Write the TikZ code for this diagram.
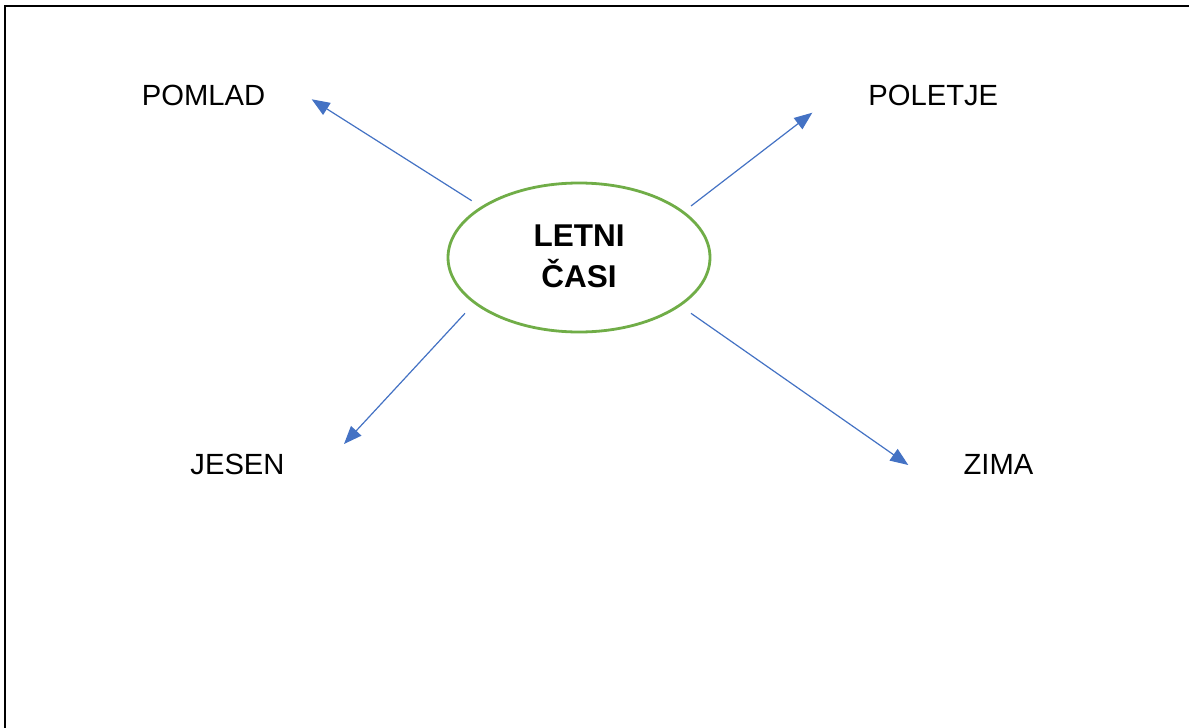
\documentclass[tikz,border=0pt]{standalone}
\usepackage{fontspec}
\setmainfont{Liberation Sans}
\usetikzlibrary{arrows.meta}
\definecolor{arrowblue}{HTML}{4472C4}
\definecolor{ringgreen}{HTML}{70AD47}
\begin{document}
\begin{tikzpicture}[x=1pt,y=-1pt,
  label/.style={anchor=base,inner sep=0pt,font=\fontsize{29.2}{34}\selectfont},
  link/.style={draw=arrowblue,line width=1.2pt,-{Triangle[length=18pt,width=14pt]}}]
\useasboundingbox (0,0) rectangle (1189,728);
\fill[white] (0,0) rectangle (1189,728);
% frame
\draw[line width=2.6pt] (5,728) -- (5,6) -- (1189,6);
% centre
\draw[draw=ringgreen,line width=2.8pt] (579,257.5) ellipse [x radius=131, y radius=74.5];
\node[inner sep=0pt] (hub) at (579,257.5) {};
\node[label,font=\bfseries\fontsize{31.5}{41}\selectfont] (t1) at (579,246) {LETNI};
\node[label,font=\bfseries\fontsize{31.5}{41}\selectfont] (t2) at (579,287) {ČASI};
% labels
\node[label] (pomlad) at (203.5,105) {POMLAD};
\node[label] (poletje) at (933.3,105) {POLETJE};
\node[label] (jesen) at (237.5,474.5) {JESEN};
\node[label] (zima) at (998.5,474.5) {ZIMA};
% arrow ends
\coordinate (s1) at (471.7,200.7);
\coordinate (e1) at (311.7,99.3);
\coordinate (s2) at (691,206);
\coordinate (e2) at (812.3,112.7);
\coordinate (s3) at (465,313.3);
\coordinate (e3) at (344,444);
\coordinate (s4) at (691,313.3);
\coordinate (e4) at (908.3,465);
\draw[link] (s1) -- (e1);
\draw[link] (s2) -- (e2);
\draw[link] (s3) -- (e3);
\draw[link] (s4) -- (e4);
\end{tikzpicture}
\end{document}
